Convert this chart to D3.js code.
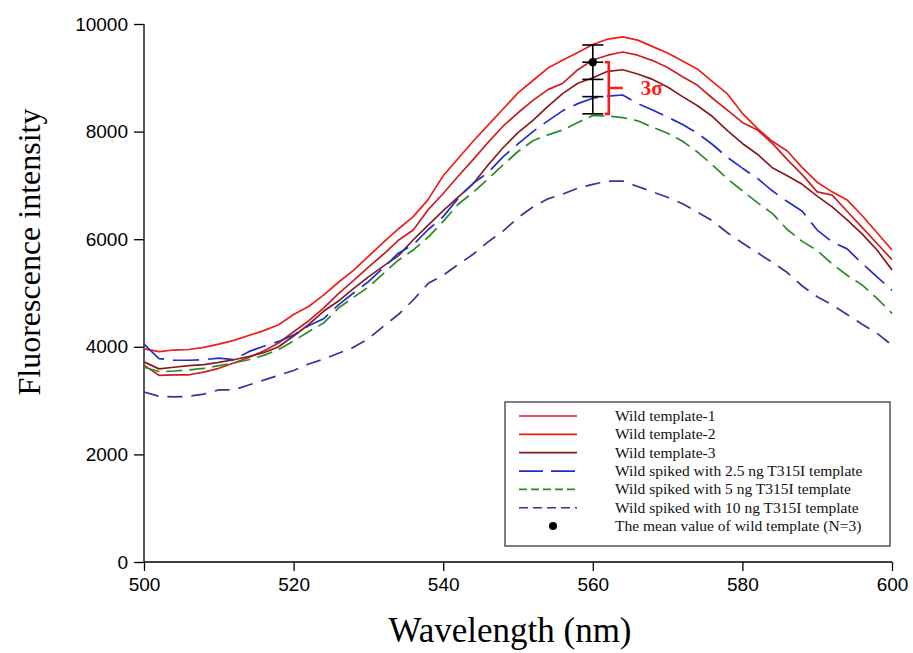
<!DOCTYPE html>
<html>
<head>
<meta charset="utf-8">
<script src="https://cdn.jsdelivr.net/npm/d3@7/dist/d3.min.js"></script>
<style>
  body { margin: 0; background: #fff; }
  svg { display: block; }
</style>
</head>
<body>
<svg id="chart" width="913" height="653"></svg>
<script>
// ---------- DATA ----------
const wavelengths = d3.range(500, 601, 2);
const xTicks = [500, 520, 540, 560, 580, 600];
const yTicks = [0, 2000, 4000, 6000, 8000, 10000];

const wild1 = [3660,3470,3480,3480,3530,3600,3700,3800,3920,4070,4280,4480,4720,4990,5230,5480,5720,5980,6170,6550,6850,7170,7480,7800,8100,8350,8580,8780,8900,9150,9330,9420,9480,9420,9320,9190,9020,8860,8620,8400,8170,8030,7780,7480,7200,6880,6820,6520,6220,5920,5620];
const wild2 = [3960,3910,3940,3950,3990,4050,4120,4210,4300,4410,4600,4750,4960,5200,5420,5680,5940,6190,6420,6740,7180,7500,7820,8120,8420,8720,8950,9180,9330,9470,9620,9720,9760,9700,9580,9460,9310,9160,8930,8700,8340,8060,7820,7640,7330,7060,6880,6730,6440,6120,5800];
const wild3 = [3720,3590,3620,3650,3670,3710,3760,3820,3890,4000,4200,4410,4660,4850,5080,5300,5500,5690,5990,6260,6530,6780,7030,7380,7700,7980,8210,8470,8710,8900,9000,9120,9150,9070,8970,8830,8650,8480,8280,8020,7780,7580,7330,7180,7020,6800,6600,6360,6100,5800,5430];
const spike25 = [4050,3780,3750,3750,3760,3790,3760,3910,4010,4100,4220,4390,4520,4780,5000,5210,5470,5740,5900,6180,6420,6760,7040,7240,7530,7770,8000,8200,8390,8520,8620,8660,8680,8520,8400,8270,8130,7970,7760,7520,7320,7130,6900,6700,6520,6170,5950,5820,5550,5300,5050];
const spike5 = [3620,3540,3550,3570,3600,3650,3700,3760,3840,3950,4110,4280,4440,4720,4920,5110,5360,5610,5800,6040,6330,6650,6870,7120,7380,7630,7830,7940,8030,8170,8300,8290,8260,8200,8080,7970,7820,7620,7380,7120,6900,6680,6480,6180,5960,5790,5540,5330,5150,4900,4620];
const spike10 = [3160,3080,3070,3080,3120,3200,3200,3290,3380,3470,3560,3680,3770,3880,3990,4150,4380,4600,4870,5180,5330,5530,5720,5950,6150,6400,6600,6750,6840,6950,7020,7080,7080,6980,6880,6780,6660,6500,6340,6120,5930,5750,5570,5380,5130,4930,4780,4600,4420,4250,4030];

const seriesNames = ["Wild template-1","Wild template-2","Wild template-3",
  "Wild spiked with 2.5 ng T315I template","Wild spiked with 5 ng T315I template",
  "Wild spiked with 10 ng T315I template"];
const seriesValues = [wild1, wild2, wild3, spike25, spike5, spike10];
const meanLabel = "The mean value of wild template (N=3)";

const meanWave = 560;
const meanValue = 9290;
const sigma = 320;
const sigmaMultiples = [1, 0, -1, -2, -3];

// ---------- STYLE ----------
const colors = ["#cc1f24", "#f01c1c", "#8c1a1a", "#1f2fc8", "#2a8a2a", "#4b2a96"];
const plotDash = [null, null, null, "26,9", "16,7", "15,9"];
const legendDash = [null, null, null, "24,8", "8,4", "9,5"];

const svg = d3.select("#chart");
const margin = {left: 144, top: 24, right: 21, bottom: 91};
const W = 913 - margin.left - margin.right;
const H = 653 - margin.top - margin.bottom;
const g = svg.append("g").attr("transform", `translate(${margin.left},${margin.top})`);

const x = d3.scaleLinear().domain([500, 600]).range([0, W]);
const y = d3.scaleLinear().domain([0, 10000]).range([H, 0]);

// axes
const xAxis = d3.axisBottom(x).tickValues(xTicks).tickSize(9).tickPadding(7).tickFormat(d3.format("d"));
const yAxis = d3.axisLeft(y).tickValues(yTicks).tickSize(10).tickPadding(6).tickFormat(d3.format("d"));

const gx = g.append("g").attr("transform", `translate(0,${H})`).call(xAxis);
const gy = g.append("g").call(yAxis);
[gx, gy].forEach(a => {
  a.select(".domain").attr("stroke", "#000").attr("stroke-width", 1.3);
  a.selectAll(".tick line").attr("stroke", "#000").attr("stroke-width", 1.3);
  a.selectAll(".tick text").attr("fill", "#000")
    .style("font-family", "'Liberation Sans', Arial, sans-serif").style("font-size", "19px");
});
gy.select(".domain").attr("d", `M0,${H}V0`);
gx.select(".domain").attr("d", `M0,0H${W}`);

// lines
const line = d3.line().x((d, i) => x(wavelengths[i])).y(d => y(d));
seriesValues.forEach((vals, k) => {
  g.append("path").datum(vals)
    .attr("d", line)
    .attr("fill", "none")
    .attr("stroke", colors[k])
    .attr("stroke-width", 1.7)
    .attr("stroke-linejoin", "round")
    .attr("stroke-dasharray", plotDash[k]);
});

// error bar with sigma caps
const ex = x(meanWave);
const caps = sigmaMultiples.map(m => meanValue + m * sigma);
g.append("line").attr("x1", ex).attr("x2", ex)
  .attr("y1", y(d3.max(caps))).attr("y2", y(d3.min(caps)))
  .attr("stroke", "#000").attr("stroke-width", 1.6);
g.selectAll(".cap").data(caps).enter().append("line")
  .attr("x1", ex - 10.5).attr("x2", ex + 10.5)
  .attr("y1", d => y(d)).attr("y2", d => y(d))
  .attr("stroke", "#000").attr("stroke-width", 1.6);
g.append("circle").attr("cx", ex).attr("cy", y(meanValue)).attr("r", 4.2).attr("fill", "#000");

// 3 sigma bracket
const bx = ex + 16;
const bTop = y(meanValue), bBot = y(meanValue - 3 * sigma), bMid = y(meanValue - 1.5 * sigma);
g.append("path")
  .attr("d", `M${bx - 4},${bTop}H${bx}V${bBot}H${bx - 4}M${bx},${bMid}H${bx + 14}`)
  .attr("fill", "none").attr("stroke", "#ff1a1a").attr("stroke-width", 2.6);
g.append("text").attr("x", bx + 32).attr("y", bMid + 7)
  .attr("fill", "#ff1a1a")
  .style("font-family", "'Liberation Serif', 'Times New Roman', serif")
  .style("font-size", "21px").style("font-weight", "bold")
  .text("3σ");

// legend
const lg = svg.append("g");
lg.append("rect").attr("x", 505).attr("y", 402).attr("width", 385).attr("height", 144)
  .attr("fill", "#fff").attr("stroke", "#555").attr("stroke-width", 1.5);
const rowY = i => 416 + i * 18.35;
seriesNames.forEach((name, k) => {
  lg.append("line").attr("x1", 519).attr("x2", 577).attr("y1", rowY(k)).attr("y2", rowY(k))
    .attr("stroke", colors[k]).attr("stroke-width", 1.7)
    .attr("stroke-dasharray", legendDash[k]);
  lg.append("text").attr("x", 615).attr("y", rowY(k) + 5)
    .style("font-family", "'Liberation Serif', 'Times New Roman', serif")
    .style("font-size", "15.5px").attr("fill", "#111").text(name);
});
lg.append("circle").attr("cx", 553).attr("cy", rowY(6)).attr("r", 4).attr("fill", "#000");
lg.append("text").attr("x", 615).attr("y", rowY(6) + 5)
  .style("font-family", "'Liberation Serif', 'Times New Roman', serif")
  .style("font-size", "15.5px").attr("fill", "#111").text(meanLabel);

// axis titles
svg.append("text").attr("x", 510).attr("y", 642).attr("text-anchor", "middle")
  .style("font-family", "'Liberation Serif', 'Times New Roman', serif")
  .style("font-size", "35px").attr("fill", "#000").text("Wavelength (nm)");
svg.append("text").attr("transform", "translate(40,252) rotate(-90)").attr("text-anchor", "middle")
  .style("font-family", "'Liberation Serif', 'Times New Roman', serif")
  .style("font-size", "32px").attr("fill", "#000").text("Fluorescence intensity");
</script>
</body>
</html>
